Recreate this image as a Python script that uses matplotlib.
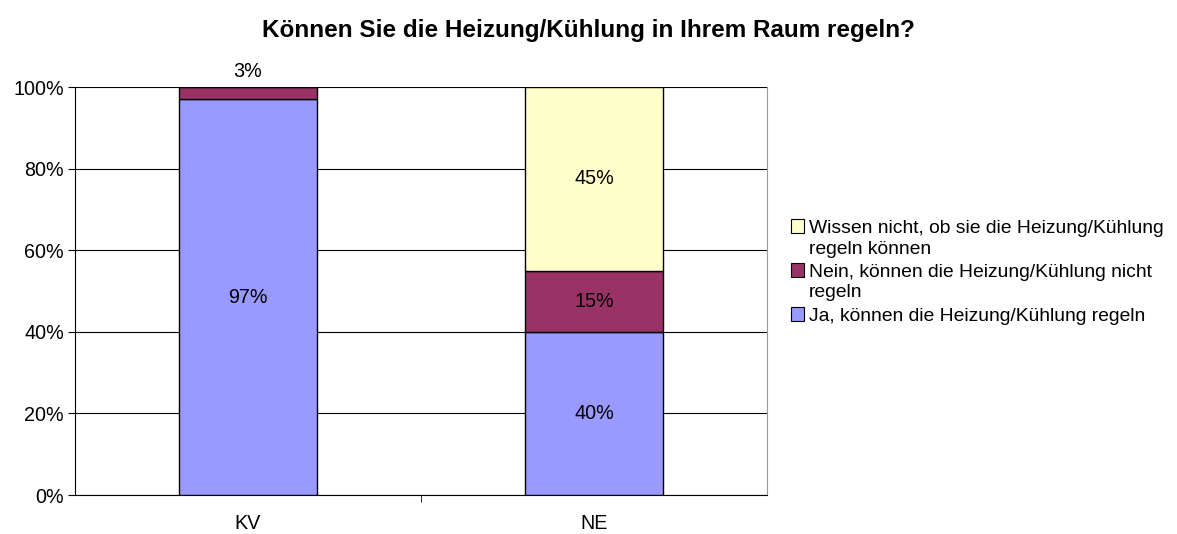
import matplotlib.pyplot as plt
import numpy as np
from matplotlib.patches import Patch
from matplotlib.legend_handler import HandlerPatch

plt.rcParams['font.family'] = ['Liberation Sans', 'DejaVu Sans']

# data
categories = ['KV', 'NE']
ja = [97, 40]
nein = [3, 15]
wissen = [0, 45]
series_labels = ['Ja, können die Heizung/Kühlung regeln',
                 'Nein, können die Heizung/Kühlung nicht\nregeln',
                 'Wissen nicht, ob sie die Heizung/Kühlung\nregeln können']
colors = ['#9999FF', '#993366', '#FFFFCC']
title = 'Können Sie die Heizung/Kühlung in Ihrem Raum regeln?'

fs = 14.2


# legend square lifted up to the first text line for wrapped labels
class UpPatch(HandlerPatch):
    def __init__(self, dy=0.0):
        super().__init__()
        self.dy = dy

    def create_artists(self, legend, orig_handle, xdescent, ydescent,
                       width, height, fontsize, trans):
        return super().create_artists(legend, orig_handle, xdescent,
                                      ydescent - self.dy, width, height,
                                      fontsize, trans)


fig = plt.figure(figsize=(11.77, 5.34), dpi=100)
ax = fig.add_axes([0.0637, 0.073, 0.588, 0.764])

x = np.arange(len(categories))
bottom = np.zeros(len(categories))
for vals, lab, col in zip([ja, nein, wissen], series_labels, colors):
    vals = np.array(vals, dtype=float)
    ax.bar(x, vals, width=0.4, bottom=bottom, color=col,
           edgecolor='black', linewidth=1.0, label=lab, zorder=3)
    for xi, v, b in zip(x, vals, bottom):
        if v <= 0:
            continue
        if v < 6:
            # small segment: label goes above the bar
            ax.text(xi, b + v + 1.5, f'{v:.0f}%', ha='center', va='bottom', fontsize=fs)
        else:
            ax.text(xi, b + v / 2, f'{v:.0f}%', ha='center', va='center', fontsize=fs, zorder=4)
    bottom += vals

ax.set_xlim(-0.5, 1.5)
ax.set_ylim(0, 100)
ax.set_yticks(np.arange(0, 101, 20))
ax.set_yticklabels([f'{v}%' for v in range(0, 101, 20)])
ax.set_xticks(x)
ax.set_xticklabels(categories)
ax.set_xticks([0.5], minor=True)
ax.tick_params(axis='x', which='major', length=0, pad=14, labelsize=fs)
ax.tick_params(axis='x', which='minor', length=5, direction='out')
ax.tick_params(axis='y', length=5, direction='out', labelsize=fs, pad=3)
ax.yaxis.grid(True, color='black', linewidth=0.8, zorder=0)
ax.set_axisbelow(True)
ax.spines['top'].set_visible(False)
ax.spines['right'].set_color('#999999')
ax.spines['left'].set_color('black')
ax.spines['bottom'].set_color('black')

fig.text(0.5, 0.943, title, ha='center', va='center', fontsize=17.5, fontweight='bold')

proxies = [Patch(facecolor=c, edgecolor='black', linewidth=0.8) for c in colors]
hmap = {}
for p, lab in zip(proxies, series_labels):
    hmap[p] = UpPatch(dy=9.0 if '\n' in lab else 0.0)

leg = fig.legend(proxies[::-1], series_labels[::-1], loc='center left',
                 bbox_to_anchor=(0.657, 0.49), frameon=False, fontsize=13.9,
                 handlelength=0.7, handleheight=0.7, handletextpad=0.25,
                 labelspacing=0.3, handler_map=hmap)
for t in leg.get_texts():
    t.set_linespacing(1.3)

fig.savefig('out.png', dpi=100)
